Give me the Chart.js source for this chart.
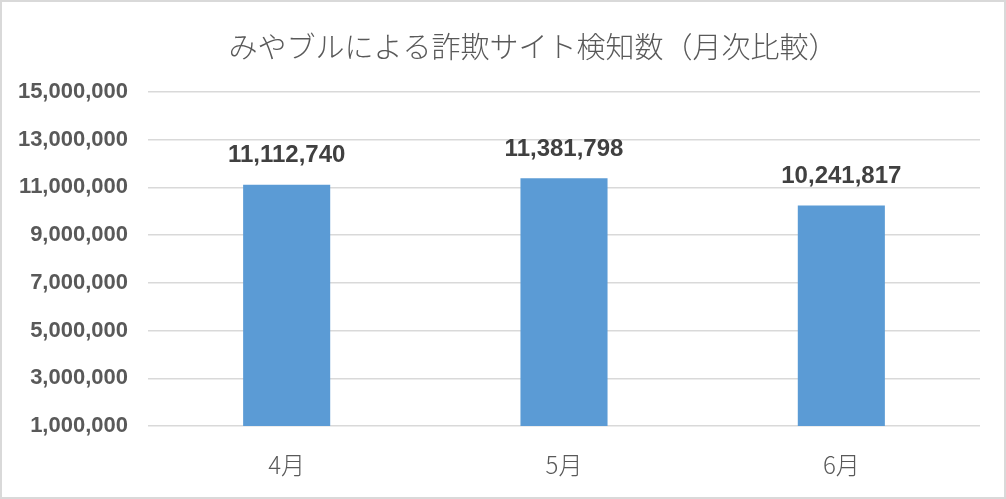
<!DOCTYPE html>
<html>
<head>
<meta charset="utf-8">
<script src="https://cdn.jsdelivr.net/npm/chart.js@4"></script>
<style>
  html, body { margin: 0; padding: 0; background: #fff; }
  #wrap { width: 1006px; height: 499px; box-sizing: border-box; border: 2px solid #d9d9d9; position: relative; }
  canvas { display: block; }
</style>
</head>
<body>
<div id="wrap"><canvas id="chart"></canvas></div>
<script>
const chartTitle = 'みやブルによる詐欺サイト検知数（月次比較）';
const months = ['4月', '5月', '6月'];
const detections = [11112740, 11381798, 10241817];
const yTicks = [1000000, 3000000, 5000000, 7000000, 9000000, 11000000, 13000000, 15000000];

const fmt = v => v.toLocaleString('en-US');

// title sits a bit right of the canvas centre, like the original
const offsetTitle = {
    id: 'offsetTitle',
    afterDraw(chart) {
        const ctx = chart.ctx;
        ctx.save();
        ctx.font = '300 29px "Noto Sans CJK JP", sans-serif';
        ctx.fillStyle = '#595959';
        ctx.textAlign = 'center';
        ctx.textBaseline = 'middle';
        ctx.fillText(chartTitle, 531, 45);
        ctx.restore();
    }
};

// draws the value above each bar
const barLabels = {
    id: 'barLabels',
    afterDatasetsDraw(chart) {
        const ctx = chart.ctx;
        const meta = chart.getDatasetMeta(0);
        ctx.save();
        ctx.font = 'bold 24px "Liberation Sans", Arial, sans-serif';
        ctx.fillStyle = '#404040';
        ctx.textAlign = 'center';
        ctx.textBaseline = 'middle';
        meta.data.forEach((bar, i) => {
            ctx.fillText(fmt(detections[i]), bar.x, bar.y - 29);
        });
        ctx.restore();
    }
};

new Chart(document.getElementById('chart'), {
    type: 'bar',
    data: {
        labels: months,
        datasets: [{
            data: detections,
            backgroundColor: '#5b9bd5',
            categoryPercentage: 1,
            barPercentage: 0.314
        }]
    },
    options: {
        responsive: true,
        maintainAspectRatio: false,
        animation: false,
        layout: { padding: { left: 0, right: 24, top: 90, bottom: 0 } },
        plugins: {
            legend: { display: false },
            tooltip: { enabled: false },
            title: { display: false }
        },
        scales: {
            x: {
                afterFit: axis => { axis.height = 71; },
                grid: { display: false },
                border: { display: false },
                ticks: {
                    color: '#595959',
                    font: { family: '"Noto Sans CJK JP", sans-serif', size: 24, weight: '300' },
                    padding: 16
                }
            },
            y: {
                min: 1000000,
                max: 15000000,
                afterBuildTicks: axis => { axis.ticks = yTicks.map(v => ({ value: v })); },
                afterFit: axis => { axis.width = 146; },
                grid: { color: '#d9d9d9', lineWidth: 1.5, drawTicks: false },
                border: { display: false },
                ticks: {
                    color: '#595959',
                    font: { family: '"Liberation Sans", Arial, sans-serif', size: 22, weight: 'bold' },
                    padding: 20,
                    callback: v => fmt(v)
                }
            }
        }
    },
    plugins: [barLabels, offsetTitle]
});
</script>
</body>
</html>
